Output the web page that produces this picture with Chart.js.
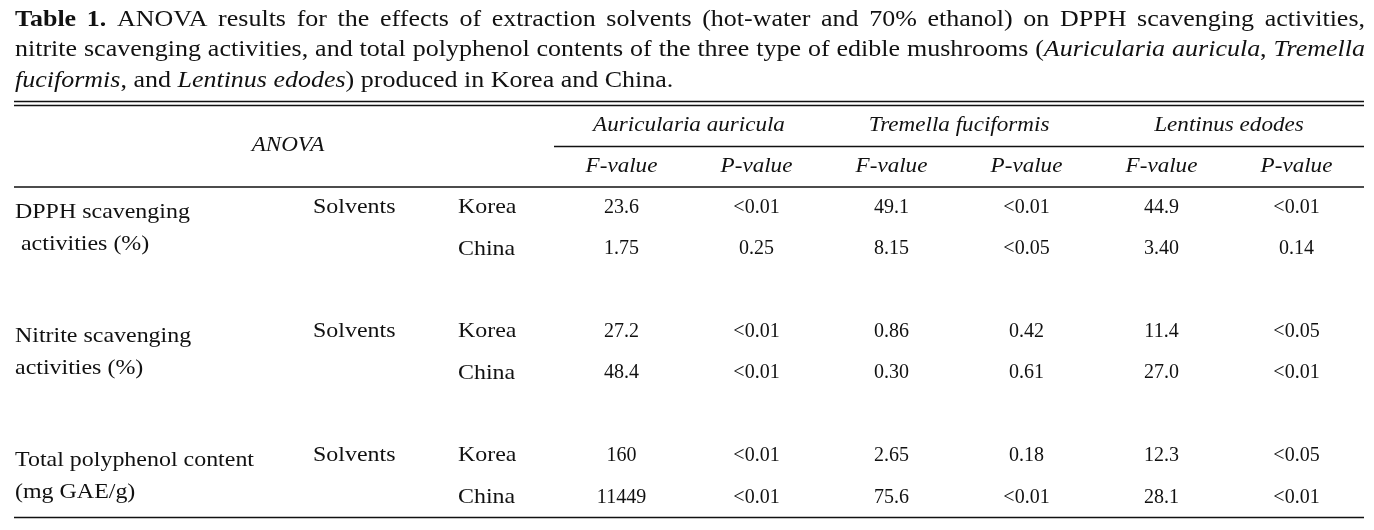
<!DOCTYPE html>
<html>
<head>
<meta charset="utf-8">
<script src="https://cdn.jsdelivr.net/npm/chart.js@4.4.1/dist/chart.umd.min.js"></script>
<style>
  html, body { margin: 0; padding: 0; background: #ffffff; }
  #wrap { width: 1374px; height: 530px; position: relative; }
</style>
</head>
<body>
<div id="wrap"><canvas id="c" width="1374" height="530"></canvas></div>
<script>
// ---------- DATA ----------
const captionLines = [
  "**Table 1.** ANOVA results for the effects of extraction solvents (hot-water and 70% ethanol) on DPPH scavenging activities,",
  "nitrite scavenging activities, and total polyphenol contents of the three type of edible mushrooms (*Auricularia auricula*, *Tremella*",
  "*fuciformis*, and *Lentinus edodes*) produced in Korea and China."
];
const headerLabel = "ANOVA";
const mushrooms = ["Auricularia auricula", "Tremella fuciformis", "Lentinus edodes"];
const statNames = ["F-value", "P-value"];
const measures = [
  ["DPPH scavenging", " activities (%)"],
  ["Nitrite scavenging", "activities (%)"],
  ["Total polyphenol content", "(mg GAE/g)"]
];
const factorName = "Solvents";
const origins = ["Korea", "China"];
// one row per measure x origin; columns: A.auricula F, P, T.fuciformis F, P, L.edodes F, P
const dpphKorea     = ["23.6", "<0.01", "49.1", "<0.01", "44.9", "<0.01"];
const dpphChina     = ["1.75", "0.25", "8.15", "<0.05", "3.40", "0.14"];
const nitriteKorea  = ["27.2", "<0.01", "0.86", "0.42", "11.4", "<0.05"];
const nitriteChina  = ["48.4", "<0.01", "0.30", "0.61", "27.0", "<0.01"];
const tpcKorea      = ["160", "<0.01", "2.65", "0.18", "12.3", "<0.05"];
const tpcChina      = ["11449", "<0.01", "75.6", "<0.01", "28.1", "<0.01"];
const tableRows = [dpphKorea, dpphChina, nitriteKorea, nitriteChina, tpcKorea, tpcChina];

// ---------- BUILD ----------
const columns = [];
mushrooms.forEach(m => statNames.forEach(s => columns.push(m + " | " + s)));

const datasets = tableRows.map((vals, i) => {
  const mi = Math.floor(i / origins.length);
  const oi = i % origins.length;
  return {
    label: measures[mi][0] + " - " + origins[oi],
    measureIndex: mi,
    originIndex: oi,
    cellText: vals,
    data: columns.map(c => ({ x: c, y: mi * (origins.length + 1) + oi })),
    pointRadius: 0,
    pointHoverRadius: 0,
    showLine: false
  };
});

const SERIF = '"Liberation Serif", "DejaVu Serif", serif';
const INK = '#111111';

function parseMarkup(line) {
  const words = [];
  let bold = false, italic = false, cur = [], buf = '';
  const flush = () => { if (buf) { cur.push({ t: buf, b: bold, i: italic }); buf = ''; } };
  for (let k = 0; k < line.length; k++) {
    if (line.startsWith('**', k)) { flush(); bold = !bold; k++; continue; }
    if (line[k] === '*') { flush(); italic = !italic; continue; }
    if (line[k] === ' ') { flush(); if (cur.length) words.push(cur); cur = []; continue; }
    buf += line[k];
  }
  flush(); if (cur.length) words.push(cur);
  return words;
}

function pieceFont(p, size) {
  return (p.i ? 'italic ' : '') + (p.b ? 'bold ' : '') + size + 'px ' + SERIF;
}

// draw text with a horizontal stretch (the reference face is wider than Times)
function drawText(ctx, text, x, y, align, font, sx) {
  ctx.save();
  ctx.font = font;
  const w = ctx.measureText(text).width * sx;
  let lx = x;
  if (align === 'center') lx = x - w / 2;
  else if (align === 'right') lx = x - w;
  ctx.translate(lx, y);
  ctx.scale(sx, 1);
  ctx.textAlign = 'left';
  ctx.fillText(text, 0, 0);
  ctx.restore();
  return w;
}

const tablePlugin = {
  id: 'tablePlugin',
  afterDatasetsDraw(chart) {
    const ctx = chart.ctx;
    const xs = chart.scales.x, ys = chart.scales.y;
    const area = chart.chartArea;
    const left = 14, right = area.right;
    ctx.save();
    ctx.fillStyle = INK;
    ctx.strokeStyle = INK;

    // caption
    const capSize = 23;
    const capSx = 1.13;
    const baselines = [26, 56, 87];
    ctx.textBaseline = 'alphabetic';
    captionLines.forEach((line, li) => {
      const words = parseMarkup(line);
      const widths = words.map(w => w.reduce((s, p) => { ctx.font = pieceFont(p, capSize); return s + ctx.measureText(p.t).width * capSx; }, 0));
      const total = widths.reduce((a, b) => a + b, 0);
      ctx.font = capSize + 'px ' + SERIF;
      let gap = ctx.measureText(' ').width * capSx;
      if (li < captionLines.length - 1) gap = (right - left - total) / (words.length - 1);
      let x = left + 1;
      words.forEach(w => {
        w.forEach(p => { x += drawText(ctx, p.t, x, baselines[li], 'left', pieceFont(p, capSize), capSx); });
        x += gap;
      });
    });

    // rules
    const hline = (y, x0, x1, lw) => { ctx.lineWidth = lw; ctx.beginPath(); ctx.moveTo(x0, y); ctx.lineTo(x1, y); ctx.stroke(); };
    hline(101.5, left, right, 1.4);
    hline(105.5, left, right, 1.4);
    hline(area.top, left, right, 1.6);
    hline(area.bottom - 0.5, left, right, 1.6);
    hline(146.5, area.left, area.right, 1.4);

    // header
    ctx.textBaseline = 'middle';
    const hFont = 'italic 21px ' + SERIF;
    const hSx = 1.1;
    drawText(ctx, headerLabel, 288, 145, 'center', hFont, hSx);
    mushrooms.forEach((m, k) => {
      const cx = (xs.getPixelForValue(2 * k) + xs.getPixelForValue(2 * k + 1)) / 2;
      drawText(ctx, m, cx, 125, 'center', hFont, hSx);
    });
    columns.forEach((c, j) => {
      drawText(ctx, statNames[j % statNames.length], xs.getPixelForValue(j), 166, 'center', hFont, hSx);
    });

    // body
    const bFont = '21px ' + SERIF;
    const bSx = 1.14;
    chart.data.datasets.forEach((ds, i) => {
      const meta = chart.getDatasetMeta(i);
      const rowY = meta.data[0].y;
      if (ds.originIndex === 0) {
        const lines = measures[ds.measureIndex];
        drawText(ctx, lines[0], 15, rowY + 5, 'left', bFont, bSx);
        drawText(ctx, factorName, 313, rowY, 'left', bFont, bSx);
        drawText(ctx, lines[1], 15, ys.getPixelForValue(ds.measureIndex * (origins.length + 1) + 1) - 5, 'left', bFont, bSx);
      }
      drawText(ctx, origins[ds.originIndex], 458, rowY, 'left', bFont, bSx);
      ctx.textAlign = 'center';
      ctx.font = '20px ' + SERIF;
      meta.data.forEach((pt, j) => ctx.fillText(ds.cellText[j], pt.x, pt.y));
    });
    ctx.restore();
  }
};

new Chart(document.getElementById('c'), {
  type: 'scatter',
  data: { labels: columns, datasets },
  options: {
    responsive: false,
    animation: false,
    events: [],
    layout: { padding: { left: 554, right: 10, top: 187, bottom: 12 } },
    plugins: { legend: { display: false }, tooltip: { enabled: false }, title: { display: false } },
    scales: {
      x: { type: 'category', labels: columns, offset: true, display: false },
      y: { type: 'linear', reverse: true, min: -0.5, max: 7.5, display: false }
    }
  },
  plugins: [tablePlugin]
});
</script>
</body>
</html>
